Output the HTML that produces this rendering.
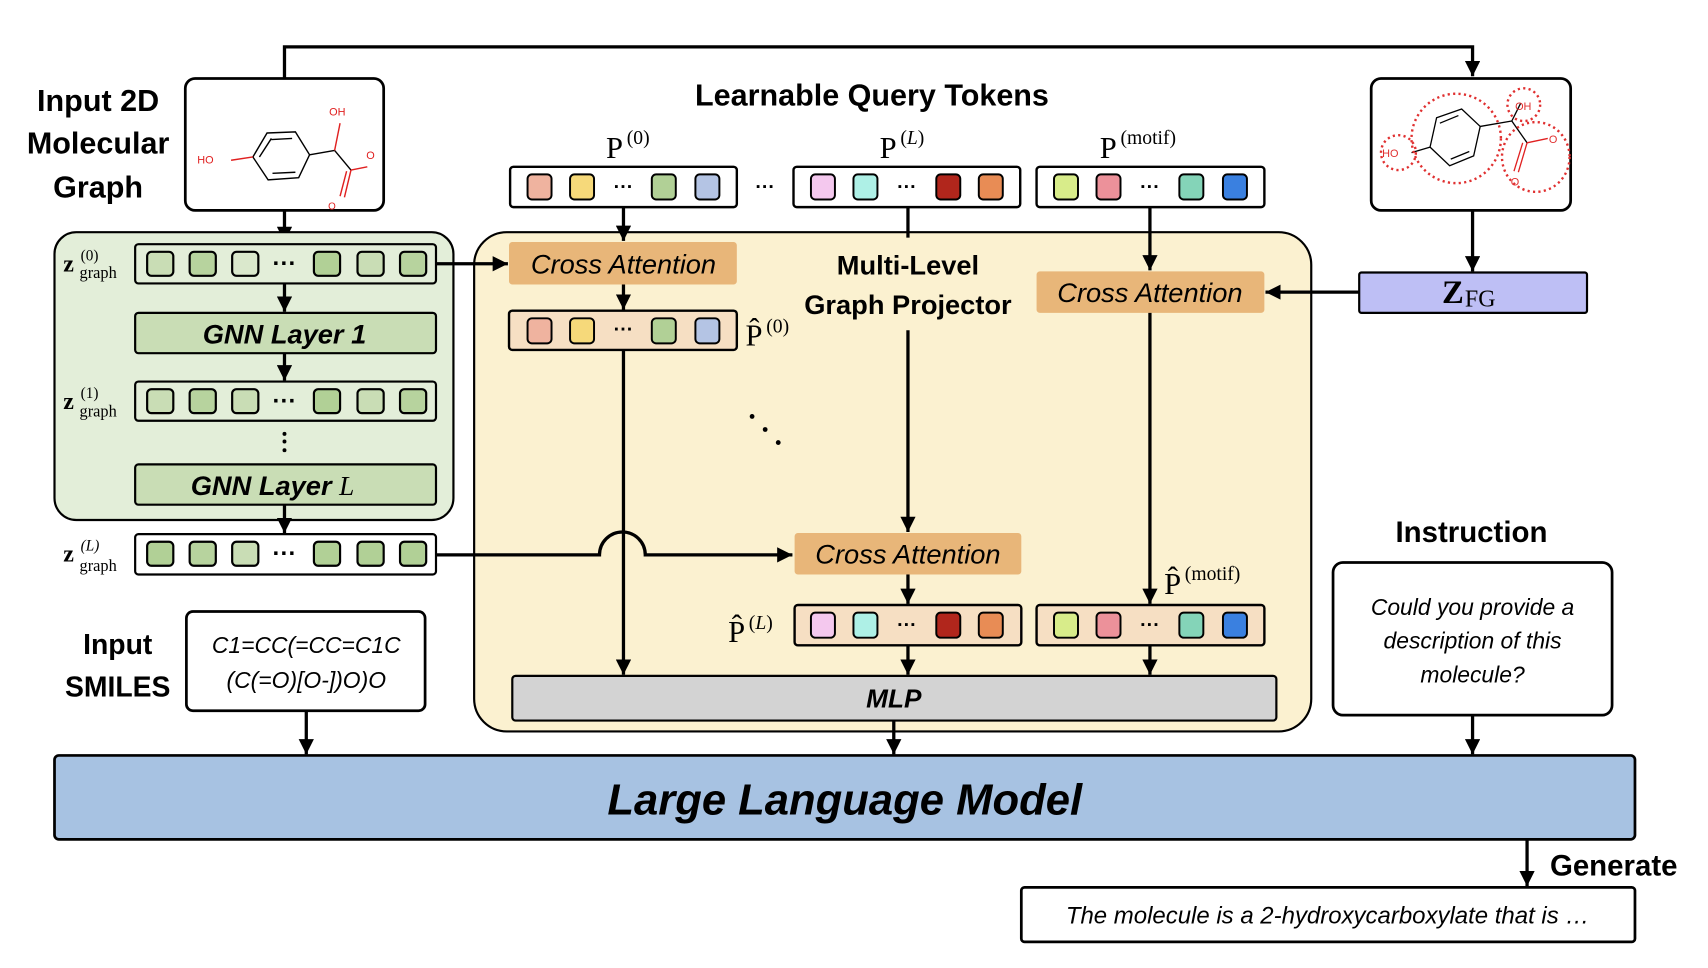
<!DOCTYPE html>
<html><head><meta charset="utf-8"><style>
html,body{margin:0;padding:0;background:#fff;}
svg{display:block;}
.t{font-family:"Liberation Sans",sans-serif;}
.b{font-weight:bold;}
.i{font-style:italic;}
.m{font-family:"Liberation Serif",serif;}
</style></head><body>
<svg width="1708" height="968" viewBox="0 0 1567 888" preserveAspectRatio="none" xmlns="http://www.w3.org/2000/svg">
<defs>
<marker id="A" viewBox="0 0 10 10" markerWidth="14" markerHeight="14" refX="10" refY="5" orient="auto" markerUnits="userSpaceOnUse"><path d="M0,0 L10,5 L0,10 z" fill="#000"/></marker>
</defs>
<rect width="1567" height="888" fill="#fff"/>

<polyline points="261,72 261,43 1351,43 1351,70" fill="none" stroke="#000" stroke-width="3" marker-end="url(#A)"/>

<rect x="170" y="72" width="182" height="121" rx="9" fill="#fff" stroke="#000" stroke-width="2.5"/>
<g stroke="#000" stroke-width="1.3" fill="none">
<polygon points="245,122 271,121 284,142 274,163 246,165 232,144"/>
<line x1="249" y1="128" x2="268" y2="127"/><line x1="250" y1="159" x2="271" y2="158"/><line x1="238" y1="144" x2="249" y2="127"/>
<line x1="284" y1="142" x2="307" y2="138"/>
<line x1="307" y1="138" x2="322" y2="156"/>
</g>
<g stroke="#e02020" stroke-width="1.3" fill="none">
<line x1="307" y1="138" x2="312" y2="113"/><line x1="232" y1="144" x2="212" y2="147"/>
<line x1="322" y1="156" x2="337" y2="153"/><line x1="322" y1="156" x2="316" y2="181"/><line x1="318" y1="157" x2="312" y2="180"/>
</g>
<g class="t" fill="#e02020" font-size="10"><text x="302" y="106">OH</text><text x="181" y="150">HO</text><text x="336" y="146">O</text><text x="301" y="192" font-size="9">O</text></g>

<g class="t b" font-size="28" text-anchor="middle"><text x="90" y="102">Input 2D</text><text x="90" y="141">Molecular</text><text x="90" y="181">Graph</text></g>
<line x1="261" y1="193" x2="261" y2="222" stroke="#000" stroke-width="3" marker-end="url(#A)"/>

<rect x="50" y="213" width="366" height="264" rx="20" fill="#e3eed9" stroke="#000" stroke-width="2"/>

<g stroke="#000" stroke-width="2">
<rect x="124" y="224" width="276" height="36" rx="3" fill="#e3eed9"/>
<rect x="124" y="350" width="276" height="36" rx="3" fill="#e3eed9"/>
<rect x="124" y="490" width="276" height="37" rx="3" fill="#fff"/>
<rect x="124" y="287" width="276" height="37" rx="3" fill="#c9ddb5"/>
<rect x="124" y="426" width="276" height="37" rx="3" fill="#c9ddb5"/>
</g>
<g stroke="#000" stroke-width="2">
<rect x="135" y="231" width="24" height="22" rx="4" fill="#c9ddb5"/><rect x="174" y="231" width="24" height="22" rx="4" fill="#b7d39e"/><rect x="213" y="231" width="24" height="22" rx="4" fill="#dae8cc"/><rect x="288" y="231" width="24" height="22" rx="4" fill="#b1d096"/><rect x="328" y="231" width="24" height="22" rx="4" fill="#c9ddb5"/><rect x="367" y="231" width="24" height="22" rx="4" fill="#b7d39e"/>
<rect x="135" y="357" width="24" height="22" rx="4" fill="#c9ddb5"/><rect x="174" y="357" width="24" height="22" rx="4" fill="#b7d39e"/><rect x="213" y="357" width="24" height="22" rx="4" fill="#c9ddb5"/><rect x="288" y="357" width="24" height="22" rx="4" fill="#b1d096"/><rect x="328" y="357" width="24" height="22" rx="4" fill="#c9ddb5"/><rect x="367" y="357" width="24" height="22" rx="4" fill="#b7d39e"/>
<rect x="135" y="497" width="24" height="22" rx="4" fill="#b1d096"/><rect x="174" y="497" width="24" height="22" rx="4" fill="#b7d39e"/><rect x="213" y="497" width="24" height="22" rx="4" fill="#c9ddb5"/><rect x="288" y="497" width="24" height="22" rx="4" fill="#b1d096"/><rect x="328" y="497" width="24" height="22" rx="4" fill="#b1d096"/><rect x="367" y="497" width="24" height="22" rx="4" fill="#b1d096"/>
</g>
<g class="t b" font-size="22" text-anchor="middle"><text x="261" y="249">···</text><text x="261" y="375">···</text><text x="261" y="515">···</text></g>
<g fill="#000"><circle cx="261" cy="398" r="1.8"/><circle cx="261" cy="405" r="1.8"/><circle cx="261" cy="413" r="1.8"/></g>
<g class="t b i" font-size="25" text-anchor="middle"><text x="261" y="315">GNN Layer 1</text><text x="250" y="454">GNN Layer <tspan class="m" font-weight="normal">L</tspan></text></g>
<g class="m" font-size="22"><text x="58" y="249"><tspan font-weight="bold">z</tspan></text><text x="74" y="239" font-size="14">(0)</text><text x="73" y="255" font-size="15">graph</text>
<text x="58" y="375"><tspan font-weight="bold">z</tspan></text><text x="74" y="365" font-size="14">(1)</text><text x="73" y="382" font-size="15">graph</text>
<text x="58" y="515"><tspan font-weight="bold">z</tspan></text><text x="74" y="505" font-size="14" font-style="italic">(L)</text><text x="73" y="524" font-size="15">graph</text></g>
<line x1="261" y1="260" x2="261" y2="286" stroke="#000" stroke-width="3" marker-end="url(#A)"/>
<line x1="261" y1="324" x2="261" y2="349" stroke="#000" stroke-width="3" marker-end="url(#A)"/>
<line x1="261" y1="463" x2="261" y2="489" stroke="#000" stroke-width="3" marker-end="url(#A)"/>

<rect x="435" y="213" width="768" height="458" rx="30" fill="#fbf1d0" stroke="#000" stroke-width="2"/>
<line x1="400" y1="242" x2="466" y2="242" stroke="#000" stroke-width="3" marker-end="url(#A)"/>

<g class="t b" font-size="28" text-anchor="middle"><text x="800" y="97">Learnable Query Tokens</text></g>
<g class="t b" font-size="25" text-anchor="middle"><text x="833" y="252">Multi-Level</text><text x="833" y="288">Graph Projector</text></g>

<g stroke="#000" stroke-width="2.2">
<rect x="468" y="153" width="208" height="37" rx="3" fill="#fff"/>
<rect x="728" y="153" width="208" height="37" rx="3" fill="#fff"/>
<rect x="951" y="153" width="209" height="37" rx="3" fill="#fff"/>
<rect x="467" y="285" width="209" height="36" rx="3" fill="#f6dfc3"/>
<rect x="729" y="555" width="208" height="37" rx="3" fill="#f6dfc3"/>
<rect x="951" y="555" width="209" height="37" rx="3" fill="#f6dfc3"/>
</g>
<g stroke="#000" stroke-width="1.8">
<rect x="484" y="160" width="22" height="23" rx="4" fill="#efb39f"/><rect x="523" y="160" width="22" height="23" rx="4" fill="#f6d97a"/><rect x="598" y="160" width="22" height="23" rx="4" fill="#b1d096"/><rect x="638" y="160" width="22" height="23" rx="4" fill="#b4c4e4"/>
<rect x="484" y="292" width="22" height="23" rx="4" fill="#efb39f"/><rect x="523" y="292" width="22" height="23" rx="4" fill="#f6d97a"/><rect x="598" y="292" width="22" height="23" rx="4" fill="#b1d096"/><rect x="638" y="292" width="22" height="23" rx="4" fill="#b4c4e4"/>
<rect x="744" y="160" width="22" height="23" rx="4" fill="#f4c8ee"/><rect x="783" y="160" width="22" height="23" rx="4" fill="#aef0e6"/><rect x="859" y="160" width="22" height="23" rx="4" fill="#b1261c"/><rect x="898" y="160" width="22" height="23" rx="4" fill="#e88c55"/>
<rect x="744" y="562" width="22" height="23" rx="4" fill="#f4c8ee"/><rect x="783" y="562" width="22" height="23" rx="4" fill="#aef0e6"/><rect x="859" y="562" width="22" height="23" rx="4" fill="#b1261c"/><rect x="898" y="562" width="22" height="23" rx="4" fill="#e88c55"/>
<rect x="967" y="160" width="22" height="23" rx="4" fill="#d8ec8a"/><rect x="1006" y="160" width="22" height="23" rx="4" fill="#ec919a"/><rect x="1082" y="160" width="22" height="23" rx="4" fill="#84d4b8"/><rect x="1122" y="160" width="22" height="23" rx="4" fill="#3a80e0"/>
<rect x="967" y="562" width="22" height="23" rx="4" fill="#d8ec8a"/><rect x="1006" y="562" width="22" height="23" rx="4" fill="#ec919a"/><rect x="1082" y="562" width="22" height="23" rx="4" fill="#84d4b8"/><rect x="1122" y="562" width="22" height="23" rx="4" fill="#3a80e0"/>
</g>
<g class="t b" font-size="18" text-anchor="middle"><text x="572" y="177">···</text><text x="572" y="308">···</text><text x="832" y="177">···</text><text x="832" y="579">···</text><text x="1055" y="177">···</text><text x="1055" y="579">···</text><text x="702" y="177">···</text></g>

<g class="m" font-size="28"><text x="556" y="145">P</text><text x="575" y="132" font-size="18">(0)</text>
<text x="807" y="145">P</text><text x="826" y="132" font-size="18">(<tspan font-style="italic">L</tspan>)</text>
<text x="1009" y="145">P</text><text x="1028" y="132" font-size="18">(motif)</text>
<text x="684" y="317">P̂</text><text x="703" y="305" font-size="18">(0)</text>
<text x="668" y="589">P̂</text><text x="687" y="577" font-size="18">(<tspan font-style="italic">L</tspan>)</text>
<text x="1068" y="545">P̂</text><text x="1087" y="532" font-size="18">(motif)</text></g>

<g fill="#e8b679"><rect x="467" y="222" width="209" height="39" rx="3"/><rect x="951" y="249" width="209" height="38" rx="3"/><rect x="729" y="489" width="208" height="38" rx="3"/></g>
<g class="t i" font-size="25" text-anchor="middle"><text x="572" y="251">Cross Attention</text><text x="1055" y="277">Cross Attention</text><text x="833" y="517">Cross Attention</text></g>

<g stroke="#000" stroke-width="3" fill="none">
<line x1="572" y1="190" x2="572" y2="221" marker-end="url(#A)"/>
<line x1="572" y1="261" x2="572" y2="284" marker-end="url(#A)"/>
<line x1="572" y1="321" x2="572" y2="619" marker-end="url(#A)"/>
<line x1="833" y1="190" x2="833" y2="218"/>
<line x1="833" y1="303" x2="833" y2="488" marker-end="url(#A)"/>
<line x1="833" y1="527" x2="833" y2="554" marker-end="url(#A)"/>
<line x1="833" y1="592" x2="833" y2="619" marker-end="url(#A)"/>
<line x1="1055" y1="190" x2="1055" y2="248" marker-end="url(#A)"/>
<line x1="1055" y1="287" x2="1055" y2="554" marker-end="url(#A)"/>
<line x1="1055" y1="592" x2="1055" y2="619" marker-end="url(#A)"/>
<path d="M400,509 L550,509 A21,21 0 0 1 592,509 L727,509" marker-end="url(#A)"/>
<line x1="1351" y1="193" x2="1351" y2="249" marker-end="url(#A)"/>
<line x1="1247" y1="268" x2="1161" y2="268" marker-end="url(#A)"/>
<line x1="281" y1="652" x2="281" y2="692" marker-end="url(#A)"/>
<line x1="820" y1="661" x2="820" y2="692" marker-end="url(#A)"/>
<line x1="1351" y1="656" x2="1351" y2="692" marker-end="url(#A)"/>
<line x1="1401" y1="770" x2="1401" y2="813" marker-end="url(#A)"/>
</g>
<g fill="#000"><circle cx="690" cy="382" r="2.2"/><circle cx="702" cy="394" r="2.2"/><circle cx="714" cy="406" r="2.2"/></g>

<rect x="1258" y="72" width="183" height="121" rx="9" fill="#fff" stroke="#000" stroke-width="2.5"/>
<g stroke="#000" stroke-width="1.2" fill="none">
<polygon points="1318,108 1341,100 1358,116 1352,143 1330,152 1312,135"/>
<line x1="1321" y1="113" x2="1338" y2="106"/><line x1="1331" y1="146" x2="1348" y2="139"/>
<line x1="1358" y1="116" x2="1387" y2="111"/><line x1="1387" y1="111" x2="1395" y2="95"/><line x1="1387" y1="111" x2="1401" y2="131"/>
<line x1="1312" y1="135" x2="1295" y2="140"/>
</g>
<g stroke="#e02020" stroke-width="1.2" fill="none"><line x1="1401" y1="131" x2="1420" y2="127"/><line x1="1401" y1="131" x2="1393" y2="158"/><line x1="1397" y1="131" x2="1389" y2="157"/></g>
<g fill="none" stroke="#e03030" stroke-width="2.2" stroke-dasharray="2,3">
<circle cx="1336" cy="127" r="41"/><circle cx="1398" cy="96" r="15"/><circle cx="1283" cy="140" r="16"/><ellipse cx="1409" cy="144" rx="31" ry="32"/>
</g>
<g class="t" fill="#e03030" font-size="10"><text x="1390" y="101">OH</text><text x="1268" y="144">HO</text><text x="1421" y="131">O</text><text x="1386" y="170">O</text></g>
<rect x="1247" y="250" width="209" height="37" rx="2" fill="#bebff5" stroke="#000" stroke-width="2"/>
<text class="m" x="1323" y="278" font-size="30" font-weight="bold">Z</text><text class="m" x="1344" y="281" font-size="22">FG</text>

<g class="t b" font-size="26" text-anchor="middle"><text x="108" y="600">Input</text><text x="108" y="639">SMILES</text></g>
<rect x="171" y="561" width="219" height="91" rx="6" fill="#fff" stroke="#000" stroke-width="2.5"/>
<g class="t i" font-size="21" text-anchor="middle"><text x="281" y="599">C1=CC(=CC=C1C</text><text x="281" y="631">(C(=O)[O-])O)O</text></g>

<rect x="470" y="620" width="701" height="41" rx="3" fill="#d3d3d3" stroke="#000" stroke-width="2"/>
<text class="t b i" x="820" y="649" font-size="24" text-anchor="middle">MLP</text>

<text class="t b" x="1350" y="497" font-size="27" text-anchor="middle">Instruction</text>
<rect x="1223" y="516" width="256" height="140" rx="9" fill="#fff" stroke="#000" stroke-width="2.5"/>
<g class="t i" font-size="21" text-anchor="middle"><text x="1351" y="564">Could you provide a</text><text x="1351" y="595">description of this</text><text x="1351" y="626">molecule?</text></g>

<rect x="50" y="693" width="1450" height="77" rx="4" fill="#a7c2e2" stroke="#000" stroke-width="2.5"/>
<text class="t b i" x="775" y="747" font-size="40" text-anchor="middle">Large Language Model</text>

<text class="t b" x="1422" y="803" font-size="27">Generate</text>
<rect x="937" y="814" width="563" height="50" rx="3" fill="#fff" stroke="#000" stroke-width="2.5"/>
<text class="t i" x="1218" y="847" font-size="22" text-anchor="middle">The molecule is a 2-hydroxycarboxylate that is …</text>
</svg>
</body></html>
